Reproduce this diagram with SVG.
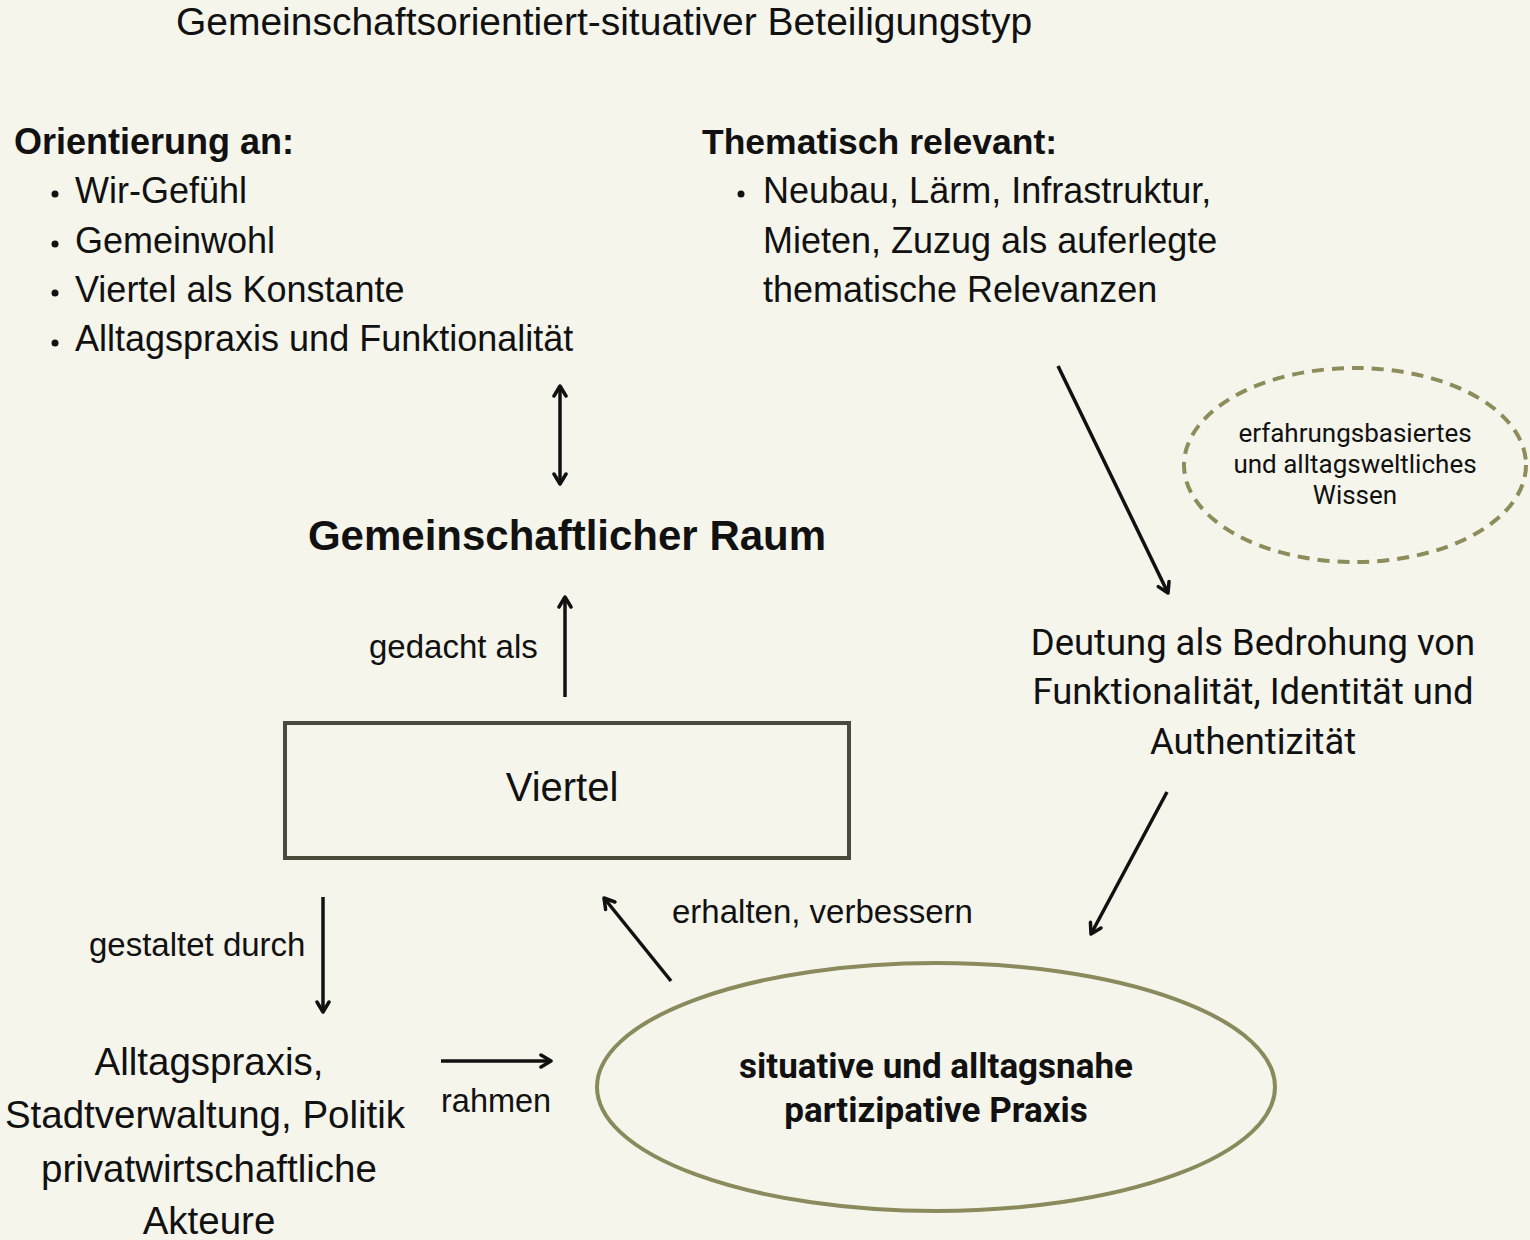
<svg xmlns="http://www.w3.org/2000/svg" width="1530" height="1240" viewBox="0 0 1530 1240">
<defs>
<style>
.t{font-family:"Liberation Sans",Arial,sans-serif;fill:#111;}
.r{font-family:Roboto,"Noto Sans",sans-serif;fill:#111;}
.b{font-weight:bold;}
.c{stroke:#111;stroke-width:3.5;fill:none;}
</style>
<marker id="ah" viewBox="0 0 16 16" refX="13" refY="8" markerWidth="16" markerHeight="16" markerUnits="userSpaceOnUse" orient="auto-start-reverse">
<path d="M3,2 L13,8 L3,14" fill="none" stroke="#111" stroke-width="3.5" stroke-linecap="round" stroke-linejoin="round"/>
</marker>
</defs>
<rect x="0" y="0" width="1530" height="1240" fill="#f5f5ec"/>
<text class="t" x="604" y="35" font-size="39" text-anchor="middle">Gemeinschaftsorientiert-situativer Beteiligungstyp</text>

<g id="orientierung">
<text class="t b" x="14" y="154" font-size="36">Orientierung an:</text>
<circle cx="55" cy="194" r="3.5" fill="#111"/><text class="t" x="75" y="203" font-size="36">Wir-Gefühl</text>
<circle cx="55" cy="244" r="3.5" fill="#111"/><text class="t" x="75" y="253" font-size="36">Gemeinwohl</text>
<circle cx="55" cy="293" r="3.5" fill="#111"/><text class="t" x="75" y="302" font-size="36">Viertel als Konstante</text>
<circle cx="55" cy="343" r="3.5" fill="#111"/><text class="t" x="75" y="351" font-size="36">Alltagspraxis und Funktionalität</text>
</g>

<g id="thematisch">
<text class="t b" x="702" y="154" font-size="35.5">Thematisch relevant:</text>
<circle cx="741" cy="194" r="3.5" fill="#111"/>
<text class="t" x="763" y="203" font-size="36">Neubau, Lärm, Infrastruktur,</text>
<text class="t" x="763" y="253" font-size="36">Mieten, Zuzug als auferlegte</text>
<text class="t" x="763" y="302" font-size="36">thematische Relevanzen</text>
</g>

<g id="raum">
<text class="t b" x="567" y="550" font-size="42" text-anchor="middle">Gemeinschaftlicher Raum</text>
</g>

<g id="viertel">
<rect x="285" y="723" width="564" height="135" fill="none" stroke="#4b4b3b" stroke-width="4"/>
<text class="t" x="562" y="801" font-size="40" text-anchor="middle">Viertel</text>
</g>

<g id="akteure">
<text class="t" x="209" y="1075" font-size="38.5" text-anchor="middle">Alltagspraxis,</text>
<text class="t" x="205" y="1128" font-size="38.5" text-anchor="middle">Stadtverwaltung, Politik</text>
<text class="t" x="209" y="1182" font-size="38.5" text-anchor="middle">privatwirtschaftliche</text>
<text class="t" x="209" y="1234" font-size="38.5" text-anchor="middle">Akteure</text>
</g>

<g id="praxis">
<ellipse cx="936" cy="1087" rx="339" ry="124" fill="none" stroke="#8b8a5c" stroke-width="4"/>
<text class="r b" x="936" y="1078" font-size="35" text-anchor="middle">situative und alltagsnahe</text>
<text class="r b" x="936" y="1122" font-size="35" text-anchor="middle">partizipative Praxis</text>
</g>

<g id="deutung">
<text class="r" x="1253" y="655" font-size="36.4" text-anchor="middle">Deutung als Bedrohung von</text>
<text class="r" x="1253" y="704" font-size="36.4" text-anchor="middle">Funktionalität, Identität und</text>
<text class="r" x="1253" y="754" font-size="36.4" text-anchor="middle">Authentizität</text>
</g>

<g id="wissen">
<ellipse cx="1355" cy="465" rx="171" ry="97" fill="none" stroke="#8e8c5a" stroke-width="4" stroke-dasharray="12 8"/>
<text class="r" x="1355" y="442" font-size="26" text-anchor="middle">erfahrungsbasiertes</text>
<text class="r" x="1355" y="473" font-size="26" text-anchor="middle">und alltagsweltliches</text>
<text class="r" x="1355" y="504" font-size="26" text-anchor="middle">Wissen</text>
</g>

<g id="connectors">
<line class="c" x1="560" y1="386" x2="560" y2="484" marker-start="url(#ah)" marker-end="url(#ah)"/>
<line class="c" x1="565" y1="697" x2="565" y2="597" marker-end="url(#ah)"/>
<line class="c" x1="323" y1="897" x2="323" y2="1012" marker-end="url(#ah)"/>
<line class="c" x1="441" y1="1061" x2="551" y2="1061" marker-end="url(#ah)"/>
<line class="c" x1="671" y1="981" x2="604" y2="898" marker-end="url(#ah)"/>
<line class="c" x1="1167" y1="792" x2="1091" y2="934" marker-end="url(#ah)"/>
<line class="c" x1="1058" y1="366" x2="1168" y2="593" marker-end="url(#ah)"/>
<text class="t" x="369" y="658" font-size="33">gedacht als</text>
<text class="t" x="89" y="956" font-size="33">gestaltet durch</text>
<text class="t" x="441" y="1112" font-size="32.5">rahmen</text>
<text class="t" x="672" y="923" font-size="33">erhalten, verbessern</text>
</g>
</svg>
